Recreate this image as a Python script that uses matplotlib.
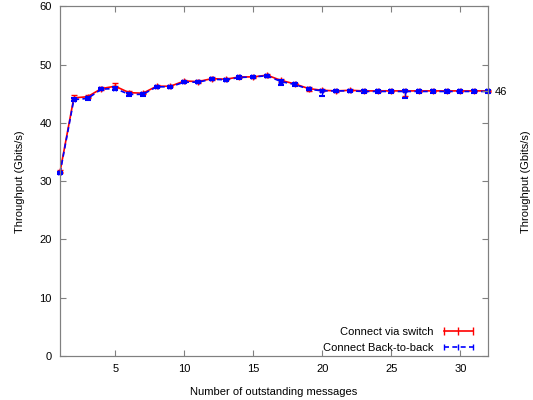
import matplotlib.pyplot as plt

# Number of outstanding messages
msgs = list(range(1, 33))

# Throughput (Gbits/s) through the switch
switch = [31.6, 44.3, 44.5, 45.9, 46.3, 45.2, 45.1, 46.3, 46.3, 47.2, 47.1, 47.6,
          47.5, 47.9, 47.9, 48.2, 47.3, 46.7, 45.9, 45.6, 45.5, 45.6, 45.5, 45.5,
          45.5, 45.5, 45.5, 45.5, 45.5, 45.5, 45.5, 45.5]
switch_lo = [0.25, 0.25, 0.25, 0.2, 0.3, 0.25, 0.2, 0.2, 0.2, 0.2, 0.2, 0.2,
             0.2, 0.2, 0.2, 0.4, 0.2, 0.2, 0.4, 0.2, 0.2, 0.2, 0.2, 0.2,
             0.2, 0.9, 0.2, 0.2, 0.2, 0.2, 0.2, 0.2]
switch_hi = [0.25, 0.5, 0.3, 0.2, 0.6, 0.25, 0.2, 0.2, 0.2, 0.2, 0.2, 0.2,
             0.2, 0.2, 0.2, 0.2, 0.2, 0.2, 0.2, 0.2, 0.2, 0.2, 0.2, 0.2,
             0.2, 0.2, 0.2, 0.2, 0.2, 0.2, 0.2, 0.2]

# Throughput (Gbits/s) with the hosts connected back-to-back
b2b = [31.4, 44.0, 44.2, 45.8, 45.9, 44.9, 44.9, 46.2, 46.2, 47.0, 47.0, 47.5,
       47.4, 47.8, 47.9, 48.1, 47.1, 46.6, 45.8, 45.5, 45.5, 45.5, 45.4, 45.4,
       45.4, 45.4, 45.4, 45.4, 45.4, 45.4, 45.4, 45.4]
b2b_lo = [0.25, 0.2, 0.2, 0.2, 0.3, 0.2, 0.2, 0.2, 0.2, 0.2, 0.2, 0.2,
          0.2, 0.2, 0.2, 0.2, 0.6, 0.2, 0.2, 0.9, 0.2, 0.2, 0.2, 0.2,
          0.2, 1.2, 0.2, 0.2, 0.2, 0.2, 0.2, 0.2]
b2b_hi = [0.25, 0.2, 0.2, 0.2, 0.2, 0.2, 0.2, 0.2, 0.2, 0.2, 0.2, 0.2,
          0.2, 0.2, 0.2, 0.2, 0.2, 0.2, 0.2, 0.2, 0.2, 0.2, 0.2, 0.2,
          0.2, 0.2, 0.2, 0.2, 0.2, 0.2, 0.2, 0.2]

plt.rcParams['font.family'] = ['Liberation Sans', 'DejaVu Sans']
plt.rcParams['font.size'] = 8
grey = '#808080'

fig = plt.figure(figsize=(5.33, 4.0), dpi=100)
ax = fig.add_axes([0.1126, 0.11, 0.803, 0.874])

ax.errorbar(msgs, switch, yerr=[switch_lo, switch_hi], color='red', lw=1.2,
            marker='+', ms=4, capsize=2.5, elinewidth=1.0, clip_on=False, zorder=3)
ax.errorbar(msgs, b2b, yerr=[b2b_lo, b2b_hi], color='blue', lw=1.2, ls=(0, (3, 2)),
            marker='x', ms=3.5, mew=1.5, capsize=2.5, elinewidth=1.0, clip_on=False,
            zorder=4)

ax.set_xlim(1, 32)
ax.set_ylim(0, 60)
ax.set_xticks([5, 10, 15, 20, 25, 30])
ax.set_yticks(range(0, 61, 10))
ax.set_xlabel('Number of outstanding messages', labelpad=9)
ax.set_ylabel('Throughput (Gbits/s)', labelpad=10)
ax.tick_params(direction='in', length=4, color=grey, top=True, pad=6)
for s in ax.spines.values():
    s.set_color(grey)

# right-hand axis repeats the ticks and marks the final value
ax2 = ax.twinx()
ax2.set_ylim(0, 60)
ax2.set_yticks(list(range(0, 61, 10)) + [switch[-1]])
ax2.set_yticklabels([''] * 7 + ['%.0f' % round(switch[-1] + 0.01)])
ax2.tick_params(direction='in', length=4, color=grey, pad=5)
for s in ax2.spines.values():
    s.set_color(grey)
fig.text(0.987, 0.11 + 0.874 / 2, 'Throughput (Gbits/s)', rotation=90,
         ha='center', va='center', fontsize=8)

# legend samples drawn as horizontal bars with end caps
h1 = plt.Line2D([], [], color='red', lw=1.2, marker='|', ms=6, mew=1.0)
h2 = plt.Line2D([], [], color='blue', lw=1.2, ls=(0, (3, 2)), marker='|', ms=4, mew=1.0)
ax.legend([h1, h2], ['Connect via switch', 'Connect Back-to-back'], loc='lower right',
          frameon=False, markerfirst=False, numpoints=3, handlelength=3.2,
          handletextpad=0.6, labelspacing=0.55, bbox_to_anchor=(0.995, -0.02))

fig.savefig('out.png', dpi=100)
